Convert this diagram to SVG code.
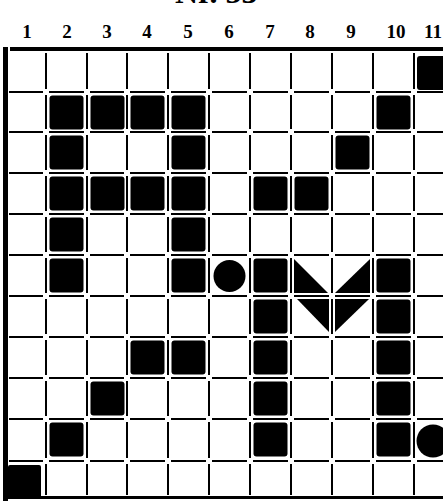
<svg xmlns="http://www.w3.org/2000/svg" xmlns:xlink="http://www.w3.org/1999/xlink" width="443" height="501" viewBox="0 0 443 501">
<style>
.lbl{font-family:"Liberation Serif",serif;font-weight:bold;font-size:19px;fill:#000;text-anchor:middle}
.title{font-family:"Liberation Serif",serif;font-weight:bold;font-size:32px;fill:#000}
.grid{stroke:#000;stroke-width:2;fill:none}
.sq{fill:#000}
</style>
<defs>
<path id="vl" d="M0 53V89M0 95V129M0 135V170M0 176V211M0 217V252M0 258V293M0 299V334M0 340V375M0 381V416M0 422V458M0 464V495"/>
<path id="hl" d="M9 0H43M49 0H84M90 0H124M130 0H165M171 0H206M212 0H247M253 0H288M294 0H329M335 0H370M376 0H411M417 0H452"/>
<rect id="s" width="34" height="34" rx="3"/>
</defs>
<rect width="443" height="501" fill="#fff"/>
<text class="title" x="175" y="3">Nr. 53</text>
<g id="labels">
<text class="lbl" x="27" y="38">1</text>
<text class="lbl" x="67" y="38">2</text>
<text class="lbl" x="107" y="38">3</text>
<text class="lbl" x="147" y="38">4</text>
<text class="lbl" x="188" y="38">5</text>
<text class="lbl" x="229" y="38">6</text>
<text class="lbl" x="270" y="38">7</text>
<text class="lbl" x="310" y="38">8</text>
<text class="lbl" x="351" y="38">9</text>
<text class="lbl" x="396" y="38">10</text>
<text class="lbl" x="433" y="38">11</text>
</g>
<g id="border">
<rect x="10" y="47" width="433" height="4" fill="#000"/>
<rect x="3" y="47" width="5" height="454" fill="#000"/>
<rect x="5" y="496" width="438" height="3" fill="#000"/>
</g>
<g id="grid" class="grid">
<use xlink:href="#vl" x="46"/>
<use xlink:href="#vl" x="87"/>
<use xlink:href="#vl" x="127"/>
<use xlink:href="#vl" x="168"/>
<use xlink:href="#vl" x="209"/>
<use xlink:href="#vl" x="250"/>
<use xlink:href="#vl" x="291"/>
<use xlink:href="#vl" x="332"/>
<use xlink:href="#vl" x="373"/>
<use xlink:href="#vl" x="414"/>
<use xlink:href="#hl" y="92"/>
<use xlink:href="#hl" y="132"/>
<use xlink:href="#hl" y="173"/>
<use xlink:href="#hl" y="214"/>
<use xlink:href="#hl" y="255"/>
<use xlink:href="#hl" y="296"/>
<use xlink:href="#hl" y="337"/>
<use xlink:href="#hl" y="378"/>
<use xlink:href="#hl" y="419"/>
<use xlink:href="#hl" y="461"/>
</g>
<g id="cells" class="sq">
<use xlink:href="#s" x="417" y="56"/>
<use xlink:href="#s" x="49.5" y="95.5"/>
<use xlink:href="#s" x="90.5" y="95.5"/>
<use xlink:href="#s" x="130.5" y="95.5"/>
<use xlink:href="#s" x="171.5" y="95.5"/>
<use xlink:href="#s" x="376.5" y="95.5"/>
<use xlink:href="#s" x="49.5" y="135.5"/>
<use xlink:href="#s" x="171.5" y="135.5"/>
<use xlink:href="#s" x="335.5" y="135.5"/>
<use xlink:href="#s" x="49.5" y="176.5"/>
<use xlink:href="#s" x="90.5" y="176.5"/>
<use xlink:href="#s" x="130.5" y="176.5"/>
<use xlink:href="#s" x="171.5" y="176.5"/>
<use xlink:href="#s" x="253.5" y="176.5"/>
<use xlink:href="#s" x="294.5" y="176.5"/>
<use xlink:href="#s" x="49.5" y="217.5"/>
<use xlink:href="#s" x="171.5" y="217.5"/>
<use xlink:href="#s" x="49.5" y="258.5"/>
<use xlink:href="#s" x="171.5" y="258.5"/>
<use xlink:href="#s" x="253.5" y="258.5"/>
<use xlink:href="#s" x="376.5" y="258.5"/>
<circle cx="229.5" cy="276" r="16"/>
<polygon points="294,259 294,293 328,293"/>
<polygon points="370,259 370,293 335,293"/>
<use xlink:href="#s" x="253.5" y="299.5"/>
<use xlink:href="#s" x="376.5" y="299.5"/>
<polygon points="297,299 329,299 329,332"/>
<polygon points="335,299 369,299 335,332"/>
<use xlink:href="#s" x="130.5" y="340.5"/>
<use xlink:href="#s" x="171.5" y="340.5"/>
<use xlink:href="#s" x="253.5" y="340.5"/>
<use xlink:href="#s" x="376.5" y="340.5"/>
<use xlink:href="#s" x="90.5" y="381.5"/>
<use xlink:href="#s" x="253.5" y="381.5"/>
<use xlink:href="#s" x="376.5" y="381.5"/>
<use xlink:href="#s" x="49.5" y="422.5"/>
<use xlink:href="#s" x="253.5" y="422.5"/>
<use xlink:href="#s" x="376.5" y="422.5"/>
<circle cx="433" cy="441" r="16.5"/>
<rect x="8" y="465" width="33" height="33" rx="2"/>
</g>
</svg>
